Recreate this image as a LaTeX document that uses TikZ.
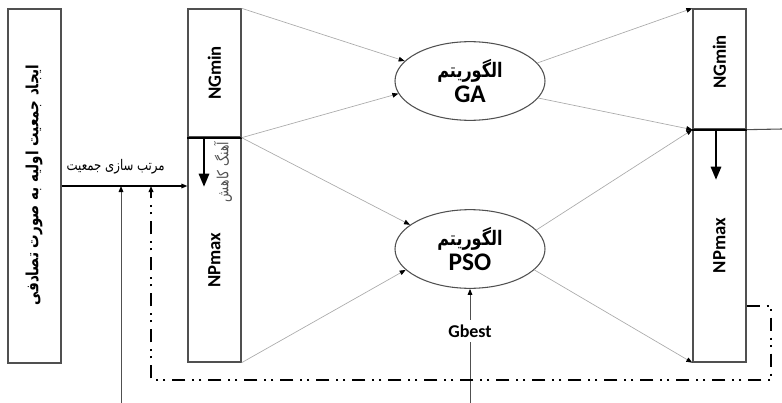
\documentclass[tikz,border=0pt]{standalone}
\usepackage{fontspec}
\setmainfont{Carlito}
\newfontfamily\farsi[Script=Arabic]{DejaVu Sans}
\newfontfamily\farsinarrow[Script=Arabic, FakeStretch=0.8]{DejaVu Sans}
\TeXXeTstate=1
\usepackage{tikz}
\usetikzlibrary{
    arrows.meta,
    shapes.geometric,
    positioning
}

\begin{document}
\begin{tikzpicture}[
    x=0.75pt, y=-0.75pt,
    font=\bfseries,
    box/.style={
    	draw=my-dark,
    	line width=1pt,
    	minimum width=39.75pt,
    	inner sep=0pt
    }, algo/.style={
    	draw=my-dark,
    	ellipse,
    	line width=0.8pt,
    	minimum width=112.5pt,
    	minimum height=59pt,
    	inner sep=0pt, align=center
    }, pil/.style={
    	draw=my-grey,
    	line width=0.5pt,
    	-{Triangle[length=4.5pt, width=3.5pt, color=black]}
    }, pil2/.style={
    	line width=2.2pt,
    	-{Triangle[length=10pt, width=7.5pt]}
    }, pil3/.style={
    	draw=my-dark,
    	line width=0.7pt,
    	-{Triangle[length=4.5pt, width=3.5pt, color=black]}
    }, back/.style={
    	line width=1.2pt,
    	dash pattern=on 10pt off 5pt on 1.5pt off 4pt on 1.5pt off 5pt,
    	-{Triangle[length=4.5pt, width=3.5pt]}
    }]
    \definecolor{my-dark}{RGB}{80, 80, 80}
    \definecolor{my-grey}{RGB}{170, 170, 170}
    \useasboundingbox (0,0) rectangle (782,403);

    \node[box, minimum height=265.5pt] (init) at (34.5,186) {};
    \node[rotate=90, font=\farsinarrow\bfseries\fontsize{12.6}{15}\selectfont] (init-txt) at (34,185) {\beginR ایجاد جمعیت اولیه به صورت تصادفی\endR};

    \node[box, minimum height=96pt] (mtop) at (214.5,73) {};
    \node[box, minimum height=168.75pt] (mbot) at (214.5,249.5) {};
    \node[rotate=90, font=\bfseries\fontsize{14}{16}\selectfont] (mtop-txt) at (mtop.center) {NGmin};
    \node[rotate=90, font=\bfseries\fontsize{14}{16}\selectfont] (mbot-txt) at (214.5,260) {NPmax};
    \draw[line width=1.5pt] (mtop.south west) -- (mtop.south east);
    \coordinate (mrate) at (204,137);
    \draw[pil2] (mrate) -- ++(0,50);
    \node[rotate=90, text=my-dark, font=\farsinarrow\fontsize{11.5}{12}\selectfont] (mrate-txt) at (223,172) {\beginR آهنگ کاهش\endR};

    \node[box, minimum height=90pt] (rtop) at (719.5,69) {};
    \node[box, minimum height=174.75pt] (rbot) at (719.5,245.5) {};
    \node[rotate=90, font=\bfseries\fontsize{14}{16}\selectfont] (rtop-txt) at (719.5,62) {NGmin};
    \node[rotate=90, font=\bfseries\fontsize{14}{16}\selectfont] (rbot-txt) at (rbot.center) {NPmax};
    \draw[line width=1.5pt] (rtop.south west) -- (rtop.south east);
    \coordinate (rrate) at (716,129);
    \draw[pil2] (rrate) -- ++(0,51);

    \node[algo] (ga) at (470,81) {{\farsinarrow\bfseries\fontsize{15}{17}\selectfont\beginR الگوریتم\endR}\\[1pt]{\fontsize{19}{21}\selectfont GA}};
    \node[algo] (pso) at (470,249) {{\farsinarrow\bfseries\fontsize{15}{17}\selectfont\beginR الگوریتم\endR}\\[1pt]{\fontsize{19}{21}\selectfont PSO}};

    % middle box -> algorithms
    \draw[pil] (mtop.north east) -- (ga.163);
    \draw[pil] (mtop.south east) -- (ga.190);
    \draw[pil] (mtop.south east) -- (pso.158);
    \draw[pil] (mbot.south east) -- (pso.198);

    % algorithms -> right box
    \draw[pil] (ga.15) -- (rtop.north west);
    \draw[pil] (ga.346) -- (rtop.south west);
    \draw[pil] (pso.16) -- (rtop.south west);
    \draw[pil] (pso.342) -- (rbot.south west);

    \draw[-{Triangle[length=4.5pt, width=3.5pt]}, line width=0.8pt] (init.east) -- (init.east -| mbot.west)
        node[pos=0.43, above=5pt, font=\farsinarrow\fontsize{11}{12}\selectfont] (sort-txt) {\beginR مرتب سازی جمعیت\endR};

    \coordinate (feed) at (121,403);
    \draw[pil3] (feed) -- (feed |- init.east);

    \coordinate (gin) at (470,403);
    \draw[pil3] (gin) -- (pso.south) node[pos=0.63, fill=white, font=\bfseries\fontsize{13.5}{15}\selectfont] (gbest) {Gbest};

    \coordinate (out) at (782,129);
    \draw[draw=my-dark, line width=0.8pt] (rtop.south east) -- (out);

    \coordinate (loopR) at (771,380);
    \coordinate (loopL) at (151,380);
    \draw[back] (rbot.east |- 0,306) -| (loopR) -- (loopL) -- (loopL |- init.east);

\end{tikzpicture}
\end{document}
